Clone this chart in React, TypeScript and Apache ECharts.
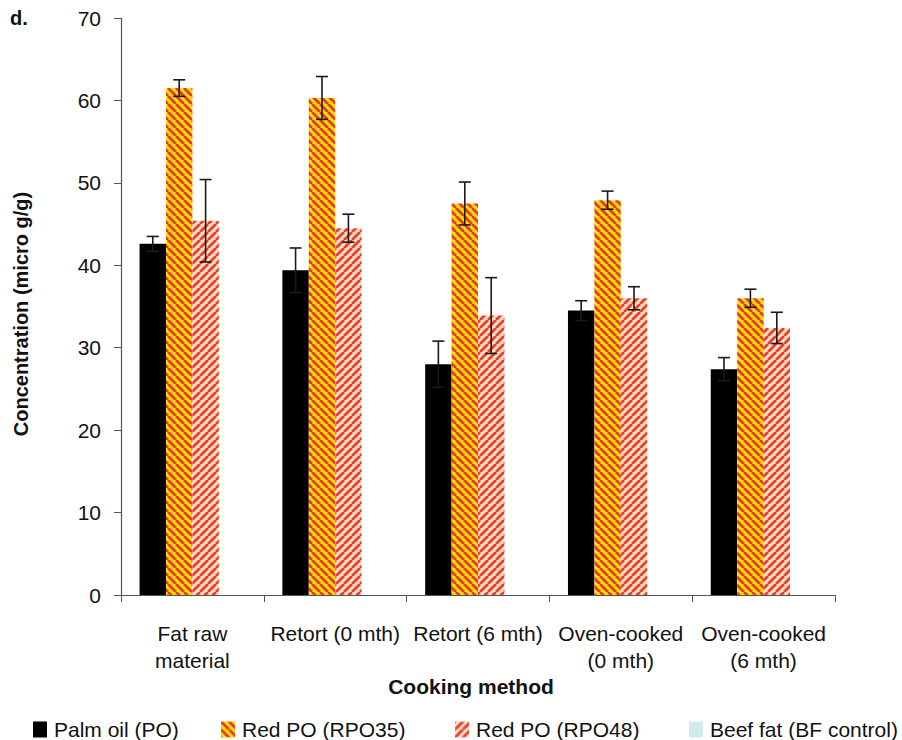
import React, { useEffect, useRef } from "react";
import * as echarts from "echarts";

const categories = ["Fat raw\nmaterial", "Retort (0 mth)", "Retort (6 mth)", "Oven-cooked\n(0 mth)", "Oven-cooked\n(6 mth)"];
const seriesNames = ["Palm oil (PO)", "Red PO (RPO35)", "Red PO (RPO48)", "Beef fat (BF control)"];
const poValues = [42.6, 39.4, 28.0, 34.5, 27.4];
const poErr = [0.9, 2.7, 2.8, 1.2, 1.4];
const rpo35Values = [61.5, 60.3, 47.5, 47.9, 36.0];
const rpo35Err = [1.0, 2.6, 2.6, 1.1, 1.1];
const rpo48Values = [45.4, 44.5, 33.9, 36.0, 32.4];
const rpo48Err = [5.0, 1.7, 4.6, 1.4, 1.9];
const bfValues = [0, 0, 0, 0, 0];
const bfErr = [0, 0, 0, 0, 0];
const yTicks = { min: 0, max: 70, interval: 10 };
const xTitle = "Cooking method";
const yTitle = "Concentration (micro g/g)";
const panelLabel = "d.";

const FONT = "Liberation Sans";
const GAP = 0.26;

function stripes(bg: string, fg: string, dir: number, s: number) {
  const cv = document.createElement("canvas");
  cv.width = s;
  cv.height = s;
  const ctx = cv.getContext("2d")!;
  ctx.fillStyle = bg;
  ctx.fillRect(0, 0, s, s);
  ctx.strokeStyle = fg;
  ctx.lineWidth = s / (2 * Math.SQRT2);
  for (const o of [-s, 0, s]) {
    ctx.beginPath();
    if (dir > 0) {
      ctx.moveTo(o, s);
      ctx.lineTo(o + s, 0);
    } else {
      ctx.moveTo(o, 0);
      ctx.lineTo(o + s, s);
    }
    ctx.stroke();
  }
  return { image: cv, repeat: "repeat", imageWidth: s, imageHeight: s };
}

export default function App() {
  const ref = useRef<HTMLDivElement>(null);
  useEffect(() => {
    if (!ref.current) return;
    const chart = echarts.init(ref.current, null, { renderer: "svg" });
    const p35 = stripes("#f7e000", "#e8392b", -1, 8);
    const p48 = stripes("#fde2c2", "#ee3e34", 1, 8);
    const colors: any[] = ["#000000", p35, p48, "#cfeaf1"];
    const vals = [poValues, rpo35Values, rpo48Values, bfValues];
    const errs = [poErr, rpo35Err, rpo48Err, bfErr];
    const errData: number[][] = [];
    vals.forEach((arr, si) => {
      if (si === 3) return;
      arr.forEach((v, ci) => errData.push([ci, v, errs[si][ci], si]));
    });
    const legendLefts = [33, 221, 455, 689];
    const option: any = {
      animation: false,
      textStyle: { fontFamily: FONT },
      grid: { left: 121, right: 67, top: 18, bottom: 145 },
      legend: seriesNames.map((n, i) => ({
        data: [{ name: n, icon: "rect" }],
        left: legendLefts[i],
        top: 719,
        padding: 0,
        itemWidth: 14,
        itemHeight: 16,
        itemGap: 0,
        textStyle: { fontFamily: FONT, fontSize: 21, color: "#111", padding: [0, 0, 0, 2] },
      })),
      graphic: [
        { type: "text", left: 10, top: 8, style: { text: panelLabel, font: `bold 20px "${FONT}"`, fill: "#111" } },
        {
          type: "text",
          x: 471,
          y: 686,
          style: { text: xTitle, font: `bold 21px "${FONT}"`, fill: "#111", align: "center", verticalAlign: "middle" },
        },
        {
          type: "text",
          x: 21,
          y: 314,
          rotation: Math.PI / 2,
          style: { text: yTitle, font: `bold 20px "${FONT}"`, fill: "#111", align: "center", verticalAlign: "middle" },
        },
      ],
      xAxis: {
        type: "category",
        data: categories,
        axisLine: { lineStyle: { color: "#555", width: 1.2 } },
        axisTick: { show: true, length: 7, lineStyle: { color: "#555" } },
        axisLabel: { fontFamily: FONT, fontSize: 21, color: "#111", margin: 25, lineHeight: 27, interval: 0 },
      },
      yAxis: {
        type: "value",
        min: yTicks.min,
        max: yTicks.max,
        interval: yTicks.interval,
        axisLine: { show: true, lineStyle: { color: "#555", width: 1.2 } },
        axisTick: { show: true, length: 7, lineStyle: { color: "#555" } },
        axisLabel: { fontFamily: FONT, fontSize: 21, color: "#111", margin: 20 },
        splitLine: { show: false },
      },
      series: [
        ...seriesNames.map((n, i) => ({
          name: n,
          type: "bar",
          data: vals[i],
          barGap: "0%",
          barCategoryGap: `${GAP * 100}%`,
          itemStyle: { color: colors[i] },
        })),
        {
          type: "custom",
          data: errData,
          z: 10,
          encode: { x: 0, y: 1 },
          renderItem: (params: any, api: any) => {
            const ci = api.value(0);
            const v = api.value(1);
            const e = api.value(2);
            const si = api.value(3);
            const band = api.size([1, 0])[0];
            const bw = (band * (1 - GAP)) / 4;
            const c = api.coord([ci, v]);
            const x = c[0] - 2 * bw + (si + 0.5) * bw;
            const top = api.coord([ci, v + e])[1];
            const bot = api.coord([ci, v - e])[1];
            const cap = 6;
            const st = { stroke: "#1a1a1a", lineWidth: 1.6 };
            return {
              type: "group",
              children: [
                { type: "line", shape: { x1: x, y1: top, x2: x, y2: bot }, style: st },
                { type: "line", shape: { x1: x - cap, y1: top, x2: x + cap, y2: top }, style: st },
                { type: "line", shape: { x1: x - cap, y1: bot, x2: x + cap, y2: bot }, style: st },
              ],
            };
          },
        },
      ],
    };
    chart.setOption(option);
    return () => chart.dispose();
  }, []);
  return <div ref={ref} style={{ width: 902, height: 740, position: "absolute", left: 0, top: 0 }} />;
}
